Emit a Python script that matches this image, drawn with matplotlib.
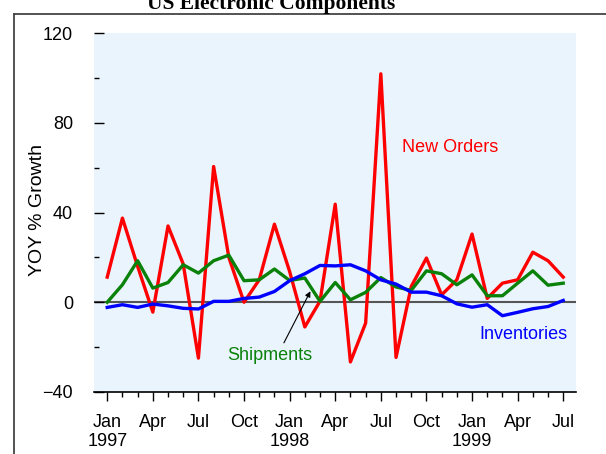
import matplotlib
matplotlib.use('Agg')
import matplotlib.pyplot as plt
from matplotlib.lines import Line2D
import numpy as np

# monthly YOY % growth, Jan 1997 .. Jul 1999
months = np.arange(31)
new_orders = [11.2, 37.5, 16, -4.4, 34, 17, -24.9, 60.5, 20, 0, 10, 34.8,
              13.7, -11, 0.5, 43.7, -26.6, -9.3, 101.8, -24.6, 7, 19.7, 3.3, 10,
              30.4, 1.7, 8.5, 10, 22.3, 18.5, 11.2]
shipments = [0, 7.8, 18.5, 6.3, 8.8, 16.7, 13, 18.5, 21, 9.6, 10, 14.8,
             9.7, 10.8, 0.4, 8.8, 1.1, 4.4, 11, 6.8, 5.3, 14, 12.7, 7.8,
             12.2, 2.9, 2.9, 8.5, 14, 7.6, 8.5]
inventories = [-2.3, -1.1, -2.3, -0.8, -1.6, -2.7, -3, 0.4, 0.4, 1.7, 2.3, 4.8,
               9.6, 12.7, 16.4, 16.2, 16.7, 14, 10, 8.1, 4.5, 4.5, 2.9, -0.7,
               -2.2, -1.1, -6, -4.5, -2.9, -1.9, 0.8]
tick_labels = ['Jan\n1997', 'Apr', 'Jul', 'Oct', 'Jan\n1998', 'Apr', 'Jul', 'Oct',
               'Jan\n1999', 'Apr', 'Jul']

plt.rcParams['font.family'] = ['Liberation Sans', 'DejaVu Sans']

fig = plt.figure(figsize=(6.06, 4.54), dpi=100)
ax = fig.add_axes([94/606, 62/454, 482/606, 359/454])
ax.set_facecolor('#eaf4fd')

ax.axhline(0, color='#555555', lw=1.5, zorder=1)
ax.plot(months, new_orders, color='#ff0000', lw=2.4, zorder=2)
ax.plot(months, shipments, color='#0a820a', lw=2.4, zorder=3)
ax.plot(months, inventories, color='#0000ff', lw=2.4, zorder=4)

ax.set_xlim(-0.87, 30.84)
ax.set_ylim(-40, 120)

ax.set_yticks([-40, 0, 40, 80, 120])
ax.set_yticks([-20, 20, 60, 100], minor=True)
ax.set_xticks(months[::3])
ax.set_xticklabels(tick_labels, linespacing=1.2)
ax.set_xticks(months, minor=True)

ax.tick_params(axis='y', which='both', direction='in', labelsize=13, pad=15, width=1)
ax.tick_params(axis='y', which='major', length=7)
ax.tick_params(axis='y', which='minor', length=3.5)
ax.tick_params(axis='x', which='both', direction='out', labelsize=13, pad=9, width=1)
ax.tick_params(axis='x', which='major', length=6.5)
ax.tick_params(axis='x', which='minor', length=3.5)

for s in ['left', 'top', 'right']:
    ax.spines[s].set_visible(False)
ax.spines['bottom'].set_linewidth(1.2)

ax.text(19.37, 68.8, 'New Orders', color='#ff0000', fontsize=13, va='center')
ax.text(24.5, -14.5, 'Inventories', color='#0000ff', fontsize=13, va='center')
ax.text(7.92, -23.7, 'Shipments', color='#0a820a', fontsize=13, va='center')
ax.annotate('', xy=(13.45, 6.0), xytext=(11.54, -19.2),
            arrowprops=dict(arrowstyle='-|>', color='black', lw=0.8, mutation_scale=8))

fig.text(37/606, 1 - 210/454, 'YOY % Growth', rotation=90, fontsize=14,
         ha='center', va='center')
fig.text(271/606, 1 - 9/454, 'US Electronic Components', fontsize=15.5,
         fontweight='bold', family='Liberation Serif', ha='center', va='baseline')

# outer frame
fig.add_artist(Line2D([13.5/606, 13.5/606], [0, 1 - 14/454], color='#444444', lw=1.3))
fig.add_artist(Line2D([13.5/606, 1], [1 - 14/454, 1 - 14/454], color='#444444', lw=1.3))

fig.savefig('out.png', dpi=100)
